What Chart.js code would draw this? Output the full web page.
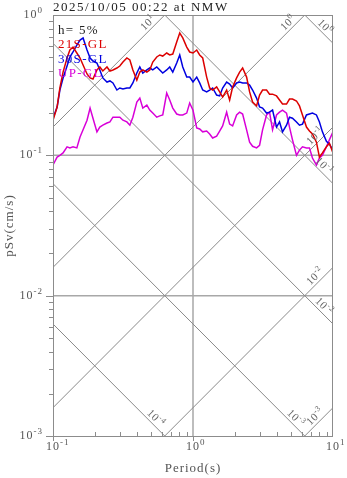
<!DOCTYPE html>
<html lang="en">
<head>
<meta charset="UTF-8">
<title>pSv spectrum NMW</title>
<script src="https://cdn.jsdelivr.net/npm/chart.js"></script>
<style>
  * { margin: 0; padding: 0; }
  body { background: #fff; }
  canvas { display: block; }
</style>
</head>
<body>
<canvas id="spec" width="347" height="478"></canvas>
<script>
// periods (s) shared by the three components
const periods = [
  0.100, 0.107, 0.112, 0.118, 0.126, 0.132, 0.139, 0.148, 0.156, 0.164,
  0.175, 0.184, 0.193, 0.206, 0.216, 0.227, 0.243, 0.255, 0.268, 0.286,
  0.300, 0.316, 0.337, 0.354, 0.372, 0.397, 0.417, 0.438, 0.468, 0.491,
  0.516, 0.551, 0.579, 0.608, 0.649, 0.682, 0.717, 0.765, 0.804, 0.845,
  0.902, 0.947, 1.00, 1.063, 1.116, 1.173, 1.252, 1.315, 1.382, 1.475,
  1.550, 1.628, 1.739, 1.827, 1.919, 2.049, 2.153, 2.262, 2.415, 2.537,
  2.665, 2.845, 2.989, 3.140, 3.353, 3.522, 3.700, 3.951, 4.150, 4.360,
  4.656, 4.890, 5.137, 5.485, 5.762, 6.053, 6.463, 6.789, 7.132, 7.615,
  8.000, 8.404, 8.974, 9.427, 10.0
];

// pseudo velocity response (cm/s), h = 5%
const sv21S = [
  0.178, 0.221, 0.302, 0.392, 0.494, 0.563, 0.591, 0.536, 0.494, 0.440,
  0.380, 0.356, 0.350, 0.406, 0.426, 0.399, 0.426, 0.399, 0.406, 0.419,
  0.433, 0.462, 0.494, 0.478, 0.406, 0.344, 0.392, 0.406, 0.392, 0.406,
  0.462, 0.502, 0.519, 0.510, 0.536, 0.519, 0.527, 0.642, 0.744, 0.686,
  0.591, 0.545, 0.536, 0.563, 0.519, 0.494, 0.361, 0.302, 0.292, 0.307,
  0.283, 0.260, 0.292, 0.248, 0.307, 0.356, 0.392, 0.419, 0.361, 0.283,
  0.240, 0.225, 0.269, 0.292, 0.292, 0.273, 0.273, 0.265, 0.248, 0.232,
  0.232, 0.252, 0.252, 0.244, 0.225, 0.194, 0.159, 0.149, 0.142, 0.124,
  0.0972, 0.104, 0.115, 0.122, 0.104
];
const sv30S = [
  0.184, 0.221, 0.292, 0.356, 0.433, 0.502, 0.545, 0.611, 0.663, 0.686,
  0.563, 0.494, 0.470, 0.455, 0.406, 0.356, 0.333, 0.339, 0.328, 0.292,
  0.302, 0.297, 0.302, 0.302, 0.328, 0.386, 0.426, 0.386, 0.406, 0.419,
  0.406, 0.426, 0.406, 0.386, 0.406, 0.426, 0.392, 0.455, 0.519, 0.426,
  0.361, 0.361, 0.333, 0.361, 0.328, 0.292, 0.283, 0.292, 0.302, 0.269,
  0.265, 0.302, 0.333, 0.322, 0.302, 0.328, 0.333, 0.328, 0.328, 0.317,
  0.292, 0.256, 0.221, 0.217, 0.200, 0.203, 0.210, 0.159, 0.173, 0.147,
  0.164, 0.187, 0.184, 0.173, 0.164, 0.167, 0.194, 0.197, 0.200, 0.194,
  0.173, 0.147, 0.126, 0.120, 0.109
];
const svUP = [
  0.0853, 0.0972, 0.100, 0.104, 0.115, 0.113, 0.115, 0.113, 0.135, 0.152,
  0.178, 0.217, 0.184, 0.147, 0.159, 0.164, 0.170, 0.173, 0.187, 0.187,
  0.187, 0.178, 0.173, 0.164, 0.187, 0.240, 0.256, 0.217, 0.228, 0.210,
  0.200, 0.187, 0.191, 0.194, 0.278, 0.248, 0.217, 0.197, 0.194, 0.194,
  0.200, 0.236, 0.210, 0.157, 0.154, 0.147, 0.149, 0.142, 0.133, 0.137,
  0.149, 0.162, 0.203, 0.167, 0.162, 0.194, 0.203, 0.197, 0.152, 0.124,
  0.116, 0.113, 0.118, 0.152, 0.194, 0.203, 0.152, 0.194, 0.203, 0.210,
  0.200, 0.159, 0.129, 0.100, 0.109, 0.115, 0.113, 0.113, 0.0957, 0.0853,
  0.0957, 0.100, 0.115, 0.129, 0.147
];

const seriesNames = ['21S-GL', '30S-GL', 'UP-GL'];
const seriesColors = ['#dc0000', '#0000e0', '#d800d8'];

// axis decades and tripartite guide levels
const xDecades = [-1, 0, 1];
const yDecades = [0, -1, -2, -3];
const dispLevels = [1, 0.1, 0.01, 0.001, 0.0001];   // cm
const accLevels = [10, 1, 0.1, 0.01, 0.001];        // cm/s^2

const TWO_PI = 2 * Math.PI;
const SERIF = '"Liberation Serif", "Times New Roman", serif';

function toPts(ys) {
  return periods.map((p, i) => ({ x: p, y: ys[i] }));
}

// guide lines: Sv = 2*pi*D/T and Sv = A*T/(2*pi)
const guideSets = [];
dispLevels.forEach(d => guideSets.push({
  kind: 'D', level: d,
  data: [{ x: 0.1, y: TWO_PI * d / 0.1 }, { x: 10, y: TWO_PI * d / 10 }],
  borderColor: '#8a8a8a', borderWidth: 1, pointRadius: 0, order: 5
}));
accLevels.forEach(a => guideSets.push({
  kind: 'A', level: a,
  data: [{ x: 0.1, y: a * 0.1 / TWO_PI }, { x: 10, y: a * 10 / TWO_PI }],
  borderColor: '#8a8a8a', borderWidth: 1, pointRadius: 0, order: 5
}));

const dataSets = [sv21S, sv30S, svUP].map((ys, i) => ({
  label: seriesNames[i],
  data: toPts(ys),
  borderColor: seriesColors[i],
  borderWidth: 1.5,
  pointRadius: 0,
  tension: 0,
  order: i
}));

// "10" with a raised exponent
function drawPow(ctx, x, y, exp, size, align) {
  ctx.font = size + 'px ' + SERIF;
  const wb = ctx.measureText('10').width;
  const es = Math.round(size * 0.72);
  ctx.font = es + 'px ' + SERIF;
  const we = ctx.measureText(String(exp)).width;
  let x0 = x;
  if (align === 'right') x0 = x - wb - we;
  else if (align === 'base') x0 = x - wb / 2;
  ctx.textAlign = 'left';
  ctx.font = size + 'px ' + SERIF;
  ctx.fillText('10', x0, y);
  ctx.font = es + 'px ' + SERIF;
  ctx.fillText(String(exp), x0 + wb, y - size * 0.42);
}

const frame = {
  id: 'frame',
  beforeDatasetsDraw(chart) {
    const { ctx, chartArea: a, scales: { x, y } } = chart;
    ctx.save();
    ctx.strokeStyle = '#a8a8a8';
    ctx.lineWidth = 1.5;
    ctx.beginPath();
    const px = x.getPixelForValue(1);
    ctx.moveTo(px, a.top); ctx.lineTo(px, a.bottom);
    [0.1, 0.01].forEach(v => {
      const py = y.getPixelForValue(v);
      ctx.moveTo(a.left, py); ctx.lineTo(a.right, py);
    });
    ctx.stroke();
    ctx.restore();
  },
  afterDraw(chart) {
    const { ctx, chartArea: a, scales: { x, y } } = chart;
    ctx.save();

    // box
    ctx.strokeStyle = '#8c8c8c';
    ctx.lineWidth = 1;
    ctx.strokeRect(a.left + 0.5, a.top + 0.5, a.right - a.left - 1, a.bottom - a.top);

    // ticks
    ctx.beginPath();
    for (let e = -3; e < 0; e++) {
      for (let m = 1; m < 10; m++) {
        const py = Math.round(y.getPixelForValue(m * Math.pow(10, e))) + 0.5;
        const len = m === 1 ? 7 : 4;
        ctx.moveTo(a.left - len, py); ctx.lineTo(a.left, py);
      }
    }
    for (let e = -1; e < 1; e++) {
      for (let m = 1; m < 10; m++) {
        const px = Math.round(x.getPixelForValue(m * Math.pow(10, e))) + 0.5;
        if (m === 1) { ctx.moveTo(px, a.bottom); ctx.lineTo(px, a.bottom + 5); }
        else { ctx.moveTo(px, a.bottom - 4); ctx.lineTo(px, a.bottom); }
      }
    }
    ctx.stroke();

    // tick labels
    ctx.fillStyle = '#555';
    ctx.letterSpacing = '1px';
    ctx.textBaseline = 'alphabetic';
    yDecades.forEach(e => {
      drawPow(ctx, 43, y.getPixelForValue(Math.pow(10, e)) + 3, e, 12, 'right');
    });
    xDecades.forEach(e => {
      drawPow(ctx, x.getPixelForValue(Math.pow(10, e)), 450, e, 12, 'base');
    });

    // axis titles
    ctx.font = '13px ' + SERIF;
    ctx.textAlign = 'center';
    ctx.fillText('Period(s)', (a.left + a.right) / 2, 472);
    ctx.save();
    ctx.translate(13, (a.top + a.bottom) / 2);
    ctx.rotate(-Math.PI / 2);
    ctx.fillText('pSv(cm/s)', 0, 0);
    ctx.restore();

    // title
    ctx.fillStyle = '#222';
    ctx.letterSpacing = '1.5px';
    ctx.textAlign = 'left';
    ctx.fillText('2025/10/05 00:22 at NMW', a.left, 11);

    // guide labels along the diagonals
    ctx.fillStyle = '#666';
    ctx.letterSpacing = '0.5px';
    guideSets.forEach(g => {
      let ex, ey;
      if (g.kind === 'A') {
        const tTop = TWO_PI / g.level;         // where Sv reaches 1
        const t = Math.min(tTop, 10);
        ex = x.getPixelForValue(t);
        ey = y.getPixelForValue(g.level * t / TWO_PI);
      } else {
        const tBot = TWO_PI * g.level / 0.001; // where Sv falls to 0.001
        const t = Math.min(tBot, 10);
        ex = x.getPixelForValue(t);
        ey = y.getPixelForValue(TWO_PI * g.level / t);
      }
      const ang = g.kind === 'A' ? -Math.PI / 4 : Math.PI / 4;
      const gap = 9;
      ctx.save();
      ctx.translate(ex, ey);
      ctx.rotate(ang);
      drawPow(ctx, -gap, -3, Math.round(Math.log10(g.level)), 11, 'right');
      ctx.restore();
    });

    // legend
    ctx.letterSpacing = '1.3px';
    ctx.font = '13px ' + SERIF;
    ctx.textAlign = 'left';
    ctx.fillStyle = '#222';
    ctx.fillText('h= 5%', 58, 34);
    seriesNames.forEach((n, i) => {
      ctx.fillStyle = seriesColors[i];
      ctx.fillText(n, 58, 48 + i * 14.5);
    });
    ctx.restore();
  }
};

new Chart(document.getElementById('spec'), {
  type: 'line',
  data: { datasets: dataSets.concat(guideSets) },
  options: {
    responsive: false,
    animation: false,
    devicePixelRatio: 1,
    layout: { padding: { top: 15, right: 14, left: 0, bottom: 0 } },
    plugins: { legend: { display: false }, tooltip: { enabled: false } },
    scales: {
      x: {
        type: 'logarithmic', min: 0.1, max: 10,
        ticks: { display: false }, grid: { display: false }, border: { display: false },
        afterFit: s => { s.height = 42; }
      },
      y: {
        type: 'logarithmic', min: 0.001, max: 1,
        ticks: { display: false }, grid: { display: false }, border: { display: false },
        afterFit: s => { s.width = 53; }
      }
    }
  },
  plugins: [frame]
});
</script>
</body>
</html>
